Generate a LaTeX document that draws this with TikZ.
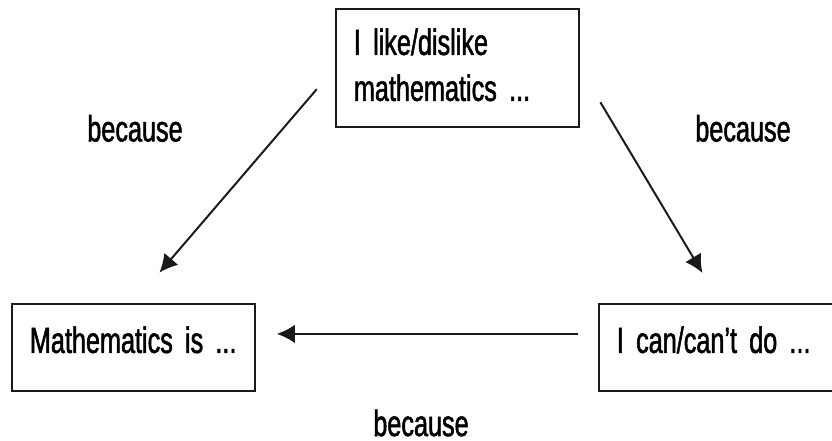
\documentclass[tikz,border=0pt]{standalone}
\usepackage{fontspec}
\setmainfont[FakeStretch=0.69,FakeBold=1.4]{Liberation Sans}
\usepackage{tikz}
\usetikzlibrary{arrows.meta,positioning,calc}
\definecolor{myline}{RGB}{25,25,25}
\DeclareRobustCommand\diagfont{\fontsize{26}{32.7}\selectfont\fontdimen2\font=0.19em\relax}

\begin{document}
\begin{tikzpicture}[every node/.style={font=\diagfont},
  box/.style={draw=myline,line width=1.3pt,anchor=north west,align=left,
    text width=5.175cm,inner xsep=0.45cm,inner ysep=0pt},
  arr/.style={draw=myline,line width=1.4pt,-{Latex[length=0.45cm,width=0.46cm]}}]
\useasboundingbox (0,0) rectangle (20.8,-11.025);
% boxes
\node[box,text height=1.15cm,text depth=1.8cm] (like) at (8.375,-0.2){I like/dislike\\mathematics ...};
\node[box,text height=1.225cm,text depth=0.95cm] (maths) at (0.275,-7.575){Mathematics is ...};
\node[box,text height=1.225cm,text depth=0.95cm] (cando) at (14.95,-7.575){I can/can’t do ...};
% arrows
\draw[arr,shorten <=0.7cm,shorten >=1cm] (like.west) -- (maths.north);
\draw[arr,shorten <=1cm,shorten >=0.875cm] (like.east) -- (cando.north);
\draw[arr,shorten <=0.5cm,shorten >=0.525cm] ([yshift=0.3375cm]cando.west) -- ([yshift=0.3375cm]maths.east);
% labels
\node (becA) at (3.375,-3.21){because};
\node (becB) at (18.575,-3.21){because};
\node (becC) at (10.525,-10.575){because};
\end{tikzpicture}
\end{document}
